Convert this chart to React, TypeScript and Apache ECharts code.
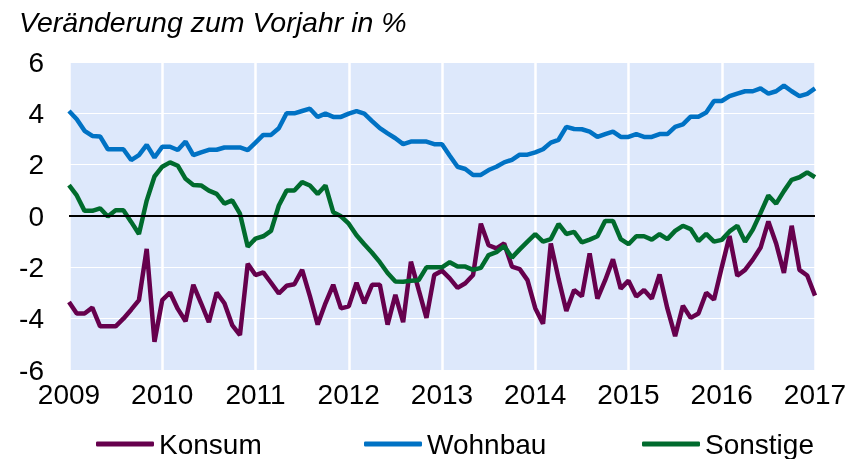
import React, { useEffect, useRef } from "react";
import * as echarts from "echarts";

const months: string[] = [];
for (let y = 2009; y <= 2017; y++) {
  for (let m = 1; m <= 12; m++) {
    if (y === 2017 && m > 1) break;
    months.push(`${y}-${m < 10 ? "0" + m : m}`);
  }
}

const konsum = [
  -3.35, -3.8, -3.8, -3.57, -4.3, -4.3, -4.3, -4.0, -3.65, -3.28, -1.28, -4.9,
  -3.28, -2.98, -3.62, -4.1, -2.68, -3.4, -4.14, -2.98, -3.4, -4.25, -4.64, -1.86,
  -2.3, -2.2, -2.6, -3.02, -2.72, -2.66, -2.1, -3.12, -4.23, -3.4, -2.68, -3.6,
  -3.52, -2.6, -3.4, -2.68, -2.68, -4.23, -3.07, -4.14, -1.78, -2.88, -3.97, -2.3,
  -2.13, -2.43, -2.8, -2.62, -2.3, -0.3, -1.14, -1.26, -1.07, -1.97, -2.07, -2.5,
  -3.59, -4.2, -1.07, -2.45, -3.7, -2.88, -3.13, -1.46, -3.22, -2.5, -1.69, -2.83,
  -2.52, -3.14, -2.88, -3.22, -2.28, -3.6, -4.68, -3.5, -3.97, -3.8, -2.99, -3.26,
  -2.0, -0.78, -2.33, -2.1, -1.7, -1.23, -0.21, -1.07, -2.22, -0.38, -2.1, -2.32,
  -3.1,
];

const wohnbau = [
  4.09, 3.77, 3.32, 3.12, 3.1, 2.6, 2.6, 2.6, 2.18, 2.37, 2.77, 2.28,
  2.7, 2.7, 2.57, 2.9, 2.37, 2.48, 2.58, 2.58, 2.67, 2.67, 2.67, 2.57,
  2.86, 3.16, 3.16, 3.42, 4.0, 4.0, 4.09, 4.18, 3.86, 3.99, 3.86, 3.86,
  3.99, 4.09, 3.99, 3.7, 3.42, 3.22, 3.03, 2.8, 2.9, 2.9, 2.9, 2.8,
  2.8, 2.35, 1.92, 1.83, 1.6, 1.6, 1.79, 1.92, 2.09, 2.19, 2.39, 2.39,
  2.48, 2.6, 2.86, 2.97, 3.47, 3.39, 3.38, 3.29, 3.08, 3.19, 3.29, 3.08,
  3.08, 3.19, 3.08, 3.08, 3.19, 3.19, 3.47, 3.57, 3.87, 3.87, 4.03, 4.48,
  4.48, 4.67, 4.77, 4.86, 4.86, 4.97, 4.77, 4.86, 5.08, 4.86, 4.67, 4.76,
  4.97,
];

const sonstige = [
  1.2, 0.8, 0.2, 0.2, 0.3, -0.02, 0.22, 0.22, -0.23, -0.7, 0.6, 1.54,
  1.92, 2.09, 1.96, 1.45, 1.21, 1.19, 0.99, 0.86, 0.48, 0.61, 0.09, -1.2,
  -0.88, -0.79, -0.58, 0.41, 0.99, 0.99, 1.32, 1.19, 0.86, 1.19, 0.15, -0.01,
  -0.3, -0.75, -1.1, -1.43, -1.8, -2.22, -2.55, -2.56, -2.52, -2.5, -2.0, -2.0,
  -2.0, -1.8, -1.97, -1.97, -2.1, -2.02, -1.52, -1.41, -1.17, -1.62, -1.3, -1.0,
  -0.71, -1.0, -0.9, -0.31, -0.7, -0.62, -1.03, -0.92, -0.79, -0.19, -0.19, -0.9,
  -1.1, -0.79, -0.79, -0.92, -0.71, -0.9, -0.58, -0.38, -0.51, -0.98, -0.7, -1.0,
  -0.93, -0.6, -0.38, -1.0, -0.53, 0.12, 0.8, 0.48, 0.97, 1.41, 1.51, 1.7,
  1.51,
];

const seriesNames = ["Konsum", "Wohnbau", "Sonstige"];
const colors = ["#66004D", "#0072C4", "#006B2D"];
const titleText = "Veränderung zum Vorjahr in %";

const FONT = "'Liberation Sans', Arial, sans-serif";

export default function App() {
  const ref = useRef<HTMLDivElement>(null);

  useEffect(() => {
    if (!ref.current) return;
    const chart = echarts.init(ref.current, undefined, { renderer: "svg" });
    const isJan = (i: number) => i % 12 === 0;
    const legendLefts = [96, 364, 642];
    const option: any = {
      animation: false,
      textStyle: { fontFamily: FONT },
      title: {
        text: titleText,
        left: 19,
        top: 7,
        padding: 0,
        textStyle: {
          fontFamily: FONT,
          fontSize: 28.5,
          fontStyle: "italic",
          fontWeight: "normal",
          color: "#000",
        },
      },
      legend: seriesNames.map((n, k) => ({
        show: true,
        data: [n],
        left: legendLefts[k],
        top: 430,
        padding: 0,
        icon: "roundRect",
        itemWidth: 58,
        itemHeight: 5,
        textStyle: { fontFamily: FONT, fontSize: 28, color: "#000" },
      })),
      grid: {
        left: 69,
        right: 35,
        top: 62,
        bottom: 89,
        show: true,
        backgroundColor: "#DDE8FB",
        borderWidth: 0,
      },
      xAxis: {
        type: "category",
        data: months,
        boundaryGap: false,
        axisLine: { show: false },
        axisTick: { show: false },
        axisLabel: {
          interval: (i: number) => isJan(i),
          formatter: (v: string) => v.slice(0, 4),
          fontSize: 28,
          color: "#000",
          fontFamily: FONT,
          margin: 10,
        },
        splitLine: {
          show: true,
          interval: (i: number) => isJan(i),
          lineStyle: { color: "#FFFFFF", width: 2.5 },
        },
      },
      yAxis: {
        type: "value",
        min: -6,
        max: 6,
        interval: 2,
        axisLine: { show: false },
        axisTick: { show: false },
        axisLabel: {
          fontSize: 28,
          color: "#000",
          fontFamily: FONT,
          margin: 25,
        },
        splitLine: { show: true, lineStyle: { color: "#FFFFFF", width: 1 } },
      },
      series: [konsum, wohnbau, sonstige].map((d, k) => ({
        name: seriesNames[k],
        type: "line",
        data: d,
        symbol: "none",
        color: colors[k],
        lineStyle: { color: colors[k], width: 4.5 },
        ...(k === 0
          ? {
              markLine: {
                silent: true,
                symbol: "none",
                label: { show: false },
                lineStyle: { color: "#000", width: 2, type: "solid" },
                data: [{ yAxis: 0 }],
              },
            }
          : {}),
      })),
    };
    chart.setOption(option);
    return () => chart.dispose();
  }, []);

  return (
    <div
      ref={ref}
      style={{ position: "fixed", left: 0, top: 0, width: 850, height: 459 }}
    />
  );
}
